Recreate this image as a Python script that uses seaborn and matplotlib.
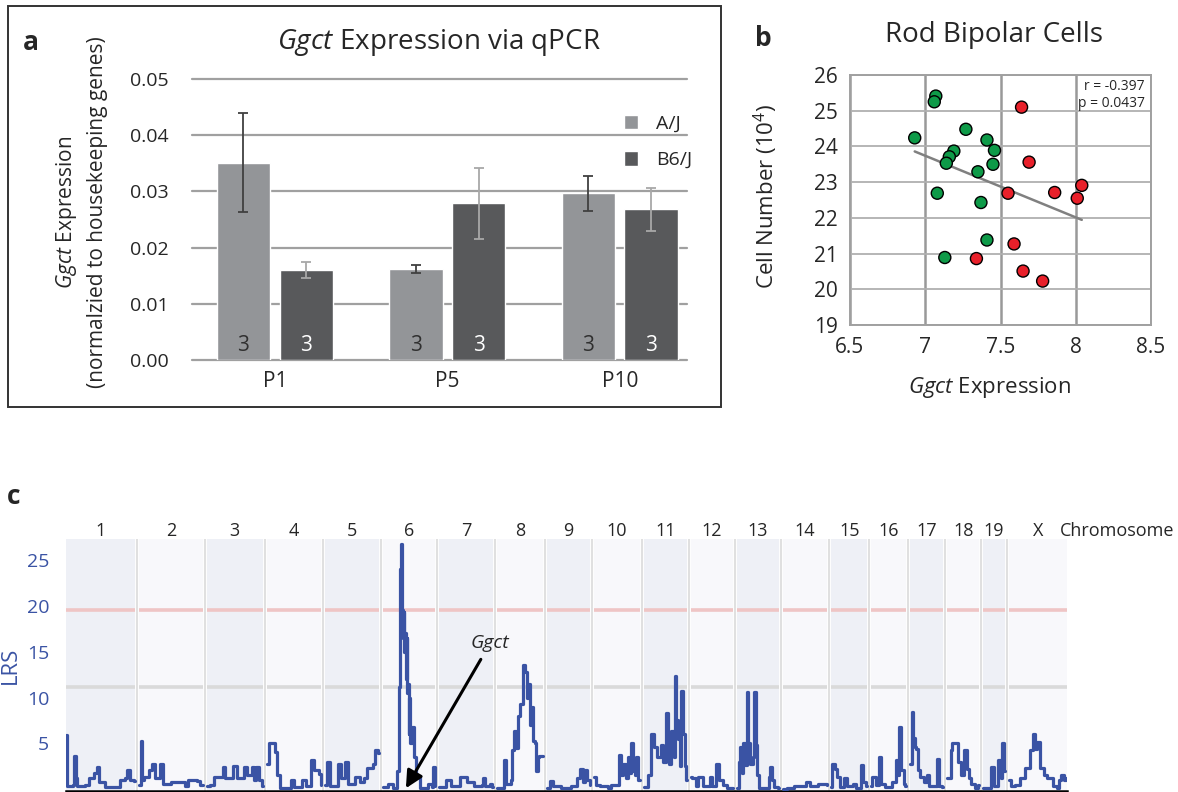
import numpy as np
import pandas as pd
import matplotlib
matplotlib.use('Agg')
import matplotlib.pyplot as plt
import seaborn as sns
from matplotlib.patches import Rectangle
import matplotlib.transforms as mtransforms

# ---------- data ----------
# panel a: qPCR
ages = ['P1', 'P5', 'P10']
strains = ['A/J', 'B6/J']
expr_aj = [0.0351, 0.0162, 0.0297]
expr_b6 = [0.0160, 0.0279, 0.0268]
err_aj = [0.0088, 0.0007, 0.0031]
err_b6 = [0.0014, 0.0063, 0.0038]
n_aj = [3, 3, 3]
n_b6 = [3, 3, 3]

# panel b: rod bipolar cells vs Ggct expression
green_x = [6.93, 7.07, 7.06, 7.27, 7.41, 7.46, 7.19, 7.16, 7.14, 7.45, 7.35, 7.08, 7.37, 7.41, 7.13]
green_y = [24.24, 25.41, 25.25, 24.48, 24.18, 23.89, 23.87, 23.71, 23.53, 23.50, 23.29, 22.69, 22.43, 21.38, 20.89]
red_x = [7.64, 7.69, 7.55, 7.86, 8.04, 8.01, 7.59, 7.34, 7.65, 7.78]
red_y = [25.10, 23.56, 22.69, 22.71, 22.91, 22.55, 21.27, 20.86, 20.51, 20.23]
stats_text = 'r = -0.397\np = 0.0437'

# panel c: LRS genome scan (position Mb within chromosome, LRS)
chrom_names = ['1', '2', '3', '4', '5', '6', '7', '8', '9', '10',
               '11', '12', '13', '14', '15', '16', '17', '18', '19', 'X']
chrom_len = [197.2, 181.7, 159.6, 155.6, 152.5, 149.5, 152.5, 131.7, 124.1, 130.0,
             121.8, 121.3, 120.3, 125.2, 103.5, 98.3, 95.3, 90.8, 61.3, 166.7]
trace_1 = [(0, 5.9), (2, 0.3), (20, 0.5), (24, 3.6), (28, 1.2), (32, 0.3), (55, 0.5), (65, 1.2),
           (80, 1.8), (88, 2.4), (94, 0.8), (110, 0.2), (150, 0.2), (155, 1.0), (168, 1.2),
           (175, 2.1), (183, 1.0), (195, 0.9)]
trace_2 = [(0, 0.5), (4, 5.3), (9, 1.0), (14, 1.3), (28, 2.1), (38, 2.8), (44, 1.2), (60, 2.8),
           (68, 0.6), (90, 0.8), (130, 0.3), (140, 1.0), (165, 0.9), (175, 0.5)]
trace_3 = [(0, 0.3), (10, 0.5), (20, 1.3), (45, 2.4), (53, 1.2), (75, 2.5), (85, 1.2), (105, 2.4),
           (115, 1.5), (128, 2.4), (135, 1.0), (140, 2.4), (150, 1.0), (156, 0.4)]
trace_4 = [(0, 2.8), (5, 5.0), (24, 4.1), (30, 1.5), (38, 0.1), (68, 1.0), (78, 0.2), (100, 1.0),
           (112, 0.3), (125, 3.2), (135, 2.1), (150, 1.7), (154, 0.5)]
trace_5 = [(0, 0.5), (5, 3.0), (12, 0.4), (35, 2.8), (45, 1.2), (55, 3.0), (65, 0.6), (85, 1.3),
           (100, 0.8), (110, 1.2), (120, 2.3), (135, 2.8), (143, 4.3), (150, 4.0)]
trace_6 = [(0, 0.2), (15, 0.6), (30, 0.1), (42, 2.0), (45, 11.2), (48, 21.0), (50, 24.0), (52, 26.8),
           (54, 20.0), (56, 19.5), (58, 16.5), (60, 19.3), (62, 15.0), (64, 17.0), (66, 12.0),
           (68, 16.5), (70, 10.5), (72, 11.5), (74, 6.0), (76, 10.0), (78, 5.0), (82, 6.8),
           (88, 3.5), (94, 1.3), (105, 0.1), (130, 0.6), (140, 0.2), (143, 2.4), (148, 0.3)]
trace_7 = [(0, 0.2), (20, 1.0), (35, 0.3), (60, 1.3), (80, 0.8), (100, 0.4), (122, 0.5),
           (125, 1.2), (130, 0.4), (145, 0.6), (150, 0.2)]
trace_8 = [(0, 0.1), (22, 3.2), (28, 0.6), (40, 1.0), (45, 4.3), (50, 6.4), (56, 4.5), (62, 8.0),
           (68, 9.3), (75, 13.5), (80, 12.8), (86, 10.0), (90, 11.5), (95, 7.0), (100, 9.0),
           (104, 5.3), (110, 5.0), (113, 2.0), (118, 3.5), (122, 3.6)]
trace_9 = [(0, 0.1), (10, 0.9), (18, 0.4), (40, 0.1), (70, 0.4), (85, 1.2), (95, 2.2), (103, 0.8),
           (108, 2.1), (116, 1.0), (122, 0.5)]
trace_10 = [(0, 1.3), (6, 0.5), (15, 0.3), (40, 0.1), (48, 0.5), (70, 3.7), (76, 1.5), (82, 2.8),
            (90, 1.2), (96, 3.5), (100, 1.8), (105, 5.0), (110, 2.0), (116, 1.5), (120, 3.5),
            (126, 1.0)]
trace_11 = [(0, 0.2), (12, 1.5), (20, 6.0), (30, 4.6), (38, 3.5), (48, 4.8), (56, 3.0), (62, 8.3),
            (68, 4.3), (72, 2.8), (78, 6.4), (85, 3.5), (88, 12.3), (92, 7.5), (98, 5.5),
            (102, 2.5), (106, 10.7), (113, 6.0), (118, 2.5), (121, 1.0)]
trace_12 = [(0, 1.3), (5, 1.2), (15, 0.4), (20, 1.3), (35, 0.3), (55, 1.3), (60, 0.4), (72, 2.8),
            (80, 1.0), (92, 0.5), (105, 0.1), (120, 0.1)]
trace_13 = [(0, 0.1), (6, 3.0), (9, 4.6), (13, 1.8), (18, 5.0), (24, 2.6), (27, 10.6), (31, 5.0),
            (37, 2.8), (45, 3.5), (48, 10.6), (53, 4.8), (58, 1.5), (62, 0.1), (90, 1.3),
            (94, 2.4), (100, 1.0), (106, 0.2), (118, 0.1)]
trace_14 = [(0, 0.05), (12, 0.15), (30, 0.3), (65, 0.8), (75, 0.3), (100, 0.6), (125, 0.5)]
trace_15 = [(0, 0.2), (3, 2.8), (12, 2.2), (18, 1.3), (26, 0.2), (38, 1.2), (45, 0.3), (62, 0.6),
            (72, 0.1), (86, 2.6), (92, 0.8), (100, 0.3)]
trace_16 = [(0, 0.4), (3, 1.3), (12, 0.5), (22, 3.5), (28, 0.6), (38, 0.2), (60, 0.8), (70, 3.2),
            (76, 1.5), (80, 6.8), (85, 2.1), (92, 0.6), (97, 0.3)]
trace_17 = [(0, 2.8), (6, 8.4), (10, 5.6), (14, 4.6), (18, 4.4), (22, 2.1), (28, 1.3), (40, 0.8),
            (50, 1.5), (55, 0.3), (78, 3.3), (83, 0.3), (93, 0.2)]
trace_18 = [(0, 1.2), (10, 4.3), (14, 5.0), (32, 3.0), (38, 1.5), (48, 4.3), (56, 2.2), (62, 1.2),
            (68, 0.6), (78, 0.1), (88, 0.5)]
trace_19 = [(0, 0.1), (22, 2.4), (31, 0.3), (42, 3.2), (50, 1.2), (55, 5.0), (60, 2.0)]
trace_x = [(0, 1.0), (8, 0.3), (18, 0.5), (33, 1.2), (47, 2.3), (62, 4.3), (70, 6.0), (76, 4.4),
           (80, 5.2), (90, 2.3), (100, 1.5), (110, 1.2), (128, 0.3), (138, 0.1), (145, 1.0),
           (150, 1.5), (158, 1.0), (165, 1.2)]
traces = [trace_1, trace_2, trace_3, trace_4, trace_5, trace_6, trace_7, trace_8, trace_9, trace_10,
          trace_11, trace_12, trace_13, trace_14, trace_15, trace_16, trace_17, trace_18, trace_19,
          trace_x]
suggestive = 11.1
significant = 19.5
ggct_chrom = '6'
ggct_pos = 66

# ---------- style ----------
sns.set_style('white')
plt.rcParams['font.family'] = ['Open Sans', 'DejaVu Sans']
plt.rcParams['mathtext.fontset'] = 'custom'
plt.rcParams['mathtext.rm'] = 'Open Sans'
plt.rcParams['mathtext.it'] = 'Open Sans:italic'

W, H = 1178, 792
fig = plt.figure(figsize=(W / 100, H / 100), dpi=100)


def fx(px):
    return px / W


def fy(py):
    return 1 - py / H


# ---------- panel a ----------
ax_a = fig.add_axes([fx(192), fy(360), fx(687) - fx(192), fy(79) - fy(360)])
df_a = pd.DataFrame({'age': ages * 2,
                     'strain': [strains[0]] * 3 + [strains[1]] * 3,
                     'expr': expr_aj + expr_b6})
sns.barplot(data=df_a, x='age', y='expr', hue='strain', palette=['#939598', '#58595b'],
            width=0.73, gap=0.15, saturation=1, errorbar=None, ax=ax_a, zorder=3)
yt = np.arange(0, 0.051, 0.01)
for t in yt:
    ax_a.axhline(t, color='#a0a0a0', lw=1.6, zorder=0, clip_on=False)
ax_a.set_ylim(0, 0.05)
ax_a.set_xlim(-0.48, 2.39)
ax_a.set_yticks(yt)
ax_a.set_yticklabels([f'{t:.2f}' for t in yt])
for s in ax_a.spines.values():
    s.set_visible(False)
ax_a.tick_params(axis='y', length=0, labelsize=14, pad=17)
ax_a.tick_params(axis='x', length=0, labelsize=15, pad=8)
ax_a.set_xlabel('')
ax_a.set_ylabel('')
fig.text(fx(81), fy(212), r'$\it{Ggct}$ Expression' + '\n(normalzied to housekeeping genes)',
         rotation=90, ha='center', va='center', multialignment='center', fontsize=15,
         linespacing=1.45)

errs = [err_aj, err_b6]
ns = [n_aj, n_b6]
err_cols = ['#404040', '#a8a8a8']
txt_cols = ['#303030', 'white']
bar_conts = list(ax_a.containers)
for i, cont in enumerate(bar_conts):
    for j, bar in enumerate(cont):
        xc = bar.get_x() + bar.get_width() / 2
        ax_a.errorbar(xc, bar.get_height(), yerr=errs[i][j], color=err_cols[i],
                      capsize=3.5, lw=1.3, capthick=1.3, zorder=4)
        ax_a.text(xc, 0.0025, str(ns[i][j]), ha='center', va='center',
                  color=txt_cols[i], fontsize=15, zorder=5)
ax_a.legend(title=None, frameon=False, loc='upper right', bbox_to_anchor=(1.045, 0.935),
            handlelength=0.75, handleheight=0.75, labelspacing=0.95, fontsize=14,
            handletextpad=0.9)
fig.text(fx(439), fy(42), r'$\it{Ggct}$ Expression via qPCR', ha='center', va='center',
         fontsize=20)
fig.text(fx(31), fy(42), 'a', ha='center', va='center', fontsize=19, fontweight='bold')
fig.patches.append(Rectangle((fx(8), fy(407)), fx(721) - fx(8), fy(6) - fy(407),
                             transform=fig.transFigure, fill=False, ec='#333333', lw=1.4))

# ---------- panel b ----------
ax_b = fig.add_axes([fx(850), fy(325), fx(1151) - fx(850), fy(75) - fy(325)])
df_b = pd.DataFrame({'expr': green_x + red_x,
                     'cells': green_y + red_y,
                     'group': ['green'] * len(green_x) + ['red'] * len(red_x)})
sns.regplot(data=df_b, x='expr', y='cells', scatter=False, ci=None, truncate=True,
            line_kws=dict(color='#808080', lw=1.8, zorder=2), ax=ax_b)
sns.scatterplot(data=df_b, x='expr', y='cells', hue='group',
                palette={'green': '#0e9a48', 'red': '#e8202a'}, s=75,
                edgecolor='black', linewidth=1, legend=False, zorder=3, ax=ax_b)
ax_b.set_xlim(6.5, 8.5)
ax_b.set_ylim(19, 26)
ax_b.set_xticks([6.5, 7, 7.5, 8, 8.5])
ax_b.set_xticklabels(['6.5', '7', '7.5', '8', '8.5'])
ax_b.set_yticks(range(19, 27))
ax_b.grid(axis='y', color='#b0b0b0', lw=1.3)
ax_b.grid(axis='x', color='#999999', lw=1.8)
ax_b.set_axisbelow(True)
for s in ax_b.spines.values():
    s.set_color('#a0a0a0')
    s.set_linewidth(1.4)
ax_b.tick_params(length=5, color='#a0a0a0', width=1.3, labelsize=15, direction='out')
ax_b.set_xlabel('')
ax_b.set_ylabel('')
fig.text(fx(990), fy(388), r'$\it{Ggct}$ Expression', ha='center', va='center', fontsize=16)
fig.text(fx(766), fy(197), 'Cell Number (10$^4$)', rotation=90, ha='center', va='center',
         fontsize=16)
ax_b.text(8.46, 25.88, stats_text, ha='right', va='top', fontsize=10, linespacing=1.2)
fig.text(fx(994), fy(35), 'Rod Bipolar Cells', ha='center', va='center', fontsize=20)
fig.text(fx(763), fy(38), 'b', ha='center', va='center', fontsize=19, fontweight='bold')

# ---------- panel c ----------
ax_c = fig.add_axes([fx(66), fy(791), fx(1067) - fx(66), fy(539) - fy(791)])
gap = 11.4
starts = np.concatenate([[0], np.cumsum(np.array(chrom_len) + gap)[:-1]])
total = starts[-1] + chrom_len[-1]
rows = []
for name, st, ln, tr in zip(chrom_names, starts, chrom_len, traces):
    for p, v in tr:
        rows.append((name, st + p, v))
    rows.append((name, st + ln, tr[-1][1]))
df_c = pd.DataFrame(rows, columns=['chrom', 'gpos', 'lrs'])

blend = mtransforms.blended_transform_factory(ax_c.transData, ax_c.transAxes)
for i, (name, st, ln) in enumerate(zip(chrom_names, starts, chrom_len)):
    ax_c.axvspan(st, st + ln, color='#eef0f6' if i % 2 == 0 else '#f8f8fb', zorder=0, lw=0)
    ax_c.hlines([significant], st, st + ln, color='#efc5c5', lw=2.6, zorder=1)
    ax_c.hlines([suggestive], st, st + ln, color='#dadada', lw=2.6, zorder=1)
    if i < len(chrom_names) - 1:
        ax_c.axvline(st + ln + gap / 2, color='#e0e0e0', lw=1.5, zorder=1)
    ax_c.text(st + ln / 2, 1.032, name, transform=blend, ha='center', va='center', fontsize=13)

sns.lineplot(data=df_c, x='gpos', y='lrs', units='chrom', estimator=None, color='#3a53a4',
             lw=2.3, drawstyle='steps-post', sort=False, ax=ax_c, zorder=3)
ax_c.set_xlim(0, total)
ax_c.set_ylim(-0.2, 27.3)
ax_c.set_yticks([5, 10, 15, 20, 25])
ax_c.set_xticks([])
ax_c.tick_params(axis='y', length=0, labelsize=14, labelcolor='#3a53a4', pad=12)
for k in ['left', 'right', 'top']:
    ax_c.spines[k].set_visible(False)
ax_c.spines['bottom'].set_color('black')
ax_c.spines['bottom'].set_linewidth(1.8)
ax_c.set_xlabel('')
ax_c.set_ylabel('')
fig.text(fx(10), fy(665), 'LRS', rotation=90, ha='center', va='center', fontsize=16,
         color='#3a53a4')
fig.text(fx(1060), fy(531), 'Chromosome', ha='left', va='center', fontsize=13)
fig.text(fx(14), fy(497), 'c', ha='center', va='center', fontsize=19, fontweight='bold')

g_start = starts[chrom_names.index(ggct_chrom)]
ax_c.annotate('Ggct', xy=(g_start + ggct_pos, 0.1), xytext=((490 - 66) / 0.3505, 15.9),
              ha='center', va='center', fontsize=14, fontstyle='italic',
              arrowprops=dict(arrowstyle='-|>', color='black', lw=2.2, mutation_scale=26,
                              shrinkA=3, shrinkB=0), zorder=5)

fig.savefig('out.png', dpi=100)
